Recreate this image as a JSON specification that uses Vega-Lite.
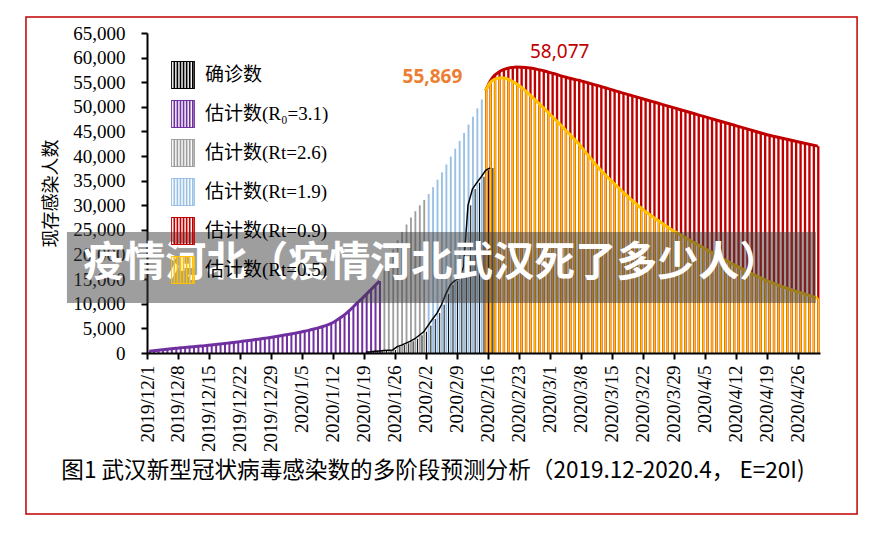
{
"$schema":"https://vega.github.io/schema/vega-lite/v6.json",
"width":673,"height":320,"autosize":"none",
"padding":{"left":147,"top":33,"right":62,"bottom":182},
"background":"white",
"config":{"view":{"stroke":null}},
"resolve":{"axis":{"x":"independent","y":"independent"}},
"datasets":{"main":[
{"date":"2019-12-01","p":350},{"date":"2019-12-02","p":450},{"date":"2019-12-03","p":550},{"date":"2019-12-04","p":650},{"date":"2019-12-05","p":750},{"date":"2019-12-06","p":850},{"date":"2019-12-07","p":950},{"date":"2019-12-08","p":1050},{"date":"2019-12-09","p":1120},{"date":"2019-12-10","p":1200},{"date":"2019-12-11","p":1280},{"date":"2019-12-12","p":1360},{"date":"2019-12-13","p":1440},{"date":"2019-12-14","p":1530},{"date":"2019-12-15","p":1620},{"date":"2019-12-16","p":1720},{"date":"2019-12-17","p":1820},{"date":"2019-12-18","p":1920},{"date":"2019-12-19","p":2030},{"date":"2019-12-20","p":2140},{"date":"2019-12-21","p":2250},{"date":"2019-12-22","p":2370},{"date":"2019-12-23","p":2480},{"date":"2019-12-24","p":2600},{"date":"2019-12-25","p":2720},{"date":"2019-12-26","p":2850},{"date":"2019-12-27","p":2980},{"date":"2019-12-28","p":3110},{"date":"2019-12-29","p":3250},{"date":"2019-12-30","p":3400},{"date":"2019-12-31","p":3550},
{"date":"2020-01-01","p":3710},{"date":"2020-01-02","p":3870},{"date":"2020-01-03","p":4040},{"date":"2020-01-04","p":4220},{"date":"2020-01-05","p":4400},{"date":"2020-01-06","p":4600},{"date":"2020-01-07","p":4820},{"date":"2020-01-08","p":5060},{"date":"2020-01-09","p":5320},{"date":"2020-01-10","p":5600},{"date":"2020-01-11","p":5950},{"date":"2020-01-12","p":6450},{"date":"2020-01-13","p":7050},{"date":"2020-01-14","p":7700},{"date":"2020-01-15","p":8450},{"date":"2020-01-16","p":9300},{"date":"2020-01-17","p":10200},{"date":"2020-01-18","p":11000},{"date":"2020-01-19","p":11900,"c":200},{"date":"2020-01-20","p":12800,"c":260},{"date":"2020-01-21","p":13700,"c":360},{"date":"2020-01-22","p":14600,"c":420},
{"date":"2020-01-23","g":16900,"c":500},{"date":"2020-01-24","g":19000,"c":570},{"date":"2020-01-25","g":21000,"c":620},{"date":"2020-01-26","g":22900,"c":1300},{"date":"2020-01-27","g":24600,"c":1600},{"date":"2020-01-28","g":26100,"c":2000},{"date":"2020-01-29","g":27500,"c":2400},{"date":"2020-01-30","g":28800,"c":2900},{"date":"2020-01-31","g":30000,"c":3600},{"date":"2020-02-01","g":31100,"c":4300},
{"date":"2020-02-02","b":32300,"c":5600},{"date":"2020-02-03","b":33700,"c":6900},{"date":"2020-02-04","b":35200,"c":8100},{"date":"2020-02-05","b":36700,"c":9800},{"date":"2020-02-06","b":38300,"c":12000},{"date":"2020-02-07","b":39900,"c":13800},{"date":"2020-02-08","b":41500,"c":14700},{"date":"2020-02-09","b":43100,"c":15200},{"date":"2020-02-10","b":44700,"c":17500},{"date":"2020-02-11","b":46400,"c":30000},{"date":"2020-02-12","b":48000,"c":33300},{"date":"2020-02-13","b":49700,"c":34600},{"date":"2020-02-14","b":51500,"c":35800},
{"date":"2020-02-15","r":53300,"o":53300,"c":37100},{"date":"2020-02-16","r":55200,"o":54900,"c":37600},{"date":"2020-02-17","r":56400,"o":55600},{"date":"2020-02-18","r":57100,"o":55850},{"date":"2020-02-19","r":57550,"o":55869},{"date":"2020-02-20","r":57850,"o":55650},{"date":"2020-02-21","r":58000,"o":55200},{"date":"2020-02-22","r":58077,"o":54650},{"date":"2020-02-23","r":58060,"o":54000},{"date":"2020-02-24","r":58000,"o":53250},{"date":"2020-02-25","r":57900,"o":52450},{"date":"2020-02-26","r":57750,"o":51600},{"date":"2020-02-27","r":57550,"o":50700},{"date":"2020-02-28","r":57350,"o":49850},{"date":"2020-02-29","r":57100,"o":48950},
{"date":"2020-03-01","r":56850,"o":48050},{"date":"2020-03-02","r":56600,"o":47150},{"date":"2020-03-03","r":56300,"o":46250},{"date":"2020-03-04","r":56050,"o":45300},{"date":"2020-03-05","r":55800,"o":44400},{"date":"2020-03-06","r":55600,"o":43450},{"date":"2020-03-07","r":55400,"o":42500},{"date":"2020-03-08","r":55150,"o":41400},{"date":"2020-03-09","r":54900,"o":40300},{"date":"2020-03-10","r":54650,"o":39200},{"date":"2020-03-11","r":54400,"o":38100},{"date":"2020-03-12","r":54130,"o":37150},{"date":"2020-03-13","r":53870,"o":36200},{"date":"2020-03-14","r":53600,"o":35300},{"date":"2020-03-15","r":53330,"o":34400},{"date":"2020-03-16","r":53070,"o":33550},{"date":"2020-03-17","r":52800,"o":32700},{"date":"2020-03-18","r":52540,"o":31850},{"date":"2020-03-19","r":52280,"o":31050},{"date":"2020-03-20","r":52020,"o":30250},{"date":"2020-03-21","r":51760,"o":29500},{"date":"2020-03-22","r":51500,"o":28800},{"date":"2020-03-23","r":51240,"o":28150},{"date":"2020-03-24","r":50980,"o":27500},{"date":"2020-03-25","r":50720,"o":26850},{"date":"2020-03-26","r":50460,"o":26250},{"date":"2020-03-27","r":50200,"o":25650},{"date":"2020-03-28","r":49940,"o":25050},{"date":"2020-03-29","r":49680,"o":24500},{"date":"2020-03-30","r":49420,"o":23950},{"date":"2020-03-31","r":49160,"o":23450},
{"date":"2020-04-01","r":48900,"o":22950},{"date":"2020-04-02","r":48640,"o":22450},{"date":"2020-04-03","r":48380,"o":21950},{"date":"2020-04-04","r":48120,"o":21450},{"date":"2020-04-05","r":47860,"o":20950},{"date":"2020-04-06","r":47600,"o":20450},{"date":"2020-04-07","r":47340,"o":19950},{"date":"2020-04-08","r":47080,"o":19450},{"date":"2020-04-09","r":46820,"o":18950},{"date":"2020-04-10","r":46560,"o":18450},{"date":"2020-04-11","r":46300,"o":17950},{"date":"2020-04-12","r":46040,"o":17500},{"date":"2020-04-13","r":45780,"o":17050},{"date":"2020-04-14","r":45520,"o":16600},{"date":"2020-04-15","r":45260,"o":16150},{"date":"2020-04-16","r":45000,"o":15700},{"date":"2020-04-17","r":44740,"o":15300},{"date":"2020-04-18","r":44480,"o":14900},{"date":"2020-04-19","r":44220,"o":14500},{"date":"2020-04-20","r":44020,"o":14150},{"date":"2020-04-21","r":43820,"o":13800},{"date":"2020-04-22","r":43620,"o":13450},{"date":"2020-04-23","r":43420,"o":13150},{"date":"2020-04-24","r":43220,"o":12850},{"date":"2020-04-25","r":43020,"o":12550},{"date":"2020-04-26","r":42820,"o":12250},{"date":"2020-04-27","r":42620,"o":12000},{"date":"2020-04-28","r":42420,"o":11700},{"date":"2020-04-29","r":42220,"o":11400},{"date":"2020-04-30","r":42020,"o":11100}
]},
"layer":[
{"data":{"name":"main"},"transform":[{"filter":"isValid(datum.p)"}],
 "mark":{"type":"bar","width":{"band":0.68}},
 "encoding":{
  "x":{"field":"date","type":"temporal","timeUnit":"utcyearmonthdate",
   "scale":{"type":"utc","domain":[{"year":2019,"month":12,"date":1,"utc":true},{"year":2020,"month":5,"date":1,"utc":true}]},
   "axis":{"title":null,"grid":false,"labelExpr":"utcFormat(datum.value, '%Y/%-m/%-d')","labelAngle":270,"labelAlign":"right","labelBaseline":"middle","labelFont":"Liberation Serif","labelFontSize":19,"labelColor":"#000","labelPadding":6,"labelOverlap":false,"labelBound":false,"labelFlush":false,"domainColor":"#000","domainWidth":2,"tickColor":"#000","tickWidth":2,"tickSize":6,"zindex":1,
    "values":[{"year":2019,"month":12,"date":1,"utc":true},{"year":2019,"month":12,"date":8,"utc":true},{"year":2019,"month":12,"date":15,"utc":true},{"year":2019,"month":12,"date":22,"utc":true},{"year":2019,"month":12,"date":29,"utc":true},{"year":2020,"month":1,"date":5,"utc":true},{"year":2020,"month":1,"date":12,"utc":true},{"year":2020,"month":1,"date":19,"utc":true},{"year":2020,"month":1,"date":26,"utc":true},{"year":2020,"month":2,"date":2,"utc":true},{"year":2020,"month":2,"date":9,"utc":true},{"year":2020,"month":2,"date":16,"utc":true},{"year":2020,"month":2,"date":23,"utc":true},{"year":2020,"month":3,"date":1,"utc":true},{"year":2020,"month":3,"date":8,"utc":true},{"year":2020,"month":3,"date":15,"utc":true},{"year":2020,"month":3,"date":22,"utc":true},{"year":2020,"month":3,"date":29,"utc":true},{"year":2020,"month":4,"date":5,"utc":true},{"year":2020,"month":4,"date":12,"utc":true},{"year":2020,"month":4,"date":19,"utc":true},{"year":2020,"month":4,"date":26,"utc":true}]}},
  "y":{"field":"p","type":"quantitative","scale":{"domain":[0,65000],"nice":false},
   "axis":{"title":"现存感染人数","titleFont":"Noto Sans CJK SC","titleFontSize":18,"titleFontWeight":"normal","titleColor":"#000","titlePadding":12,"grid":false,"values":[0,5000,10000,15000,20000,25000,30000,35000,40000,45000,50000,55000,60000,65000],"labelExpr":"format(datum.value, ',')","labelOverlap":false,"labelFont":"Liberation Serif","labelFontSize":19,"labelColor":"#000","labelPadding":16,"domainColor":"#000","domainWidth":2,"tickColor":"#000","tickWidth":2,"tickSize":6}},
  "color":{"datum":"估计数(R₀=3.1)","scale":{"domain":["确诊数","估计数(R₀=3.1)","估计数(Rt=2.6)","估计数(Rt=1.9)","估计数(Rt=0.9)","估计数(Rt=0.5)"],"range":["#000000","#7030A0","#9E9E9E","#9BC2E6","#C00000","#FFC000"]},
   "legend":{"title":null,"orient":"none","legendX":22,"legendY":28,"padding":0,"symbolType":"M-0.85,-1H0.85V1H-0.85Z M-0.78,-0.93V0.93H0.78V-0.93Z M-0.68,-0.93h0.12v1.86h-0.12Z M-0.46,-0.93h0.12v1.86h-0.12Z M-0.24,-0.93h0.12v1.86h-0.12Z M-0.02,-0.93h0.12v1.86h-0.12Z M0.2,-0.93h0.12v1.86h-0.12Z M0.42,-0.93h0.12v1.86h-0.12Z M0.64,-0.93h0.12v1.86h-0.12Z","symbolSize":784,"symbolStrokeWidth":0,"symbolOpacity":1,"labelFont":"Liberation Serif, Noto Sans CJK SC","labelFontSize":19,"labelColor":"#000","labelOffset":8,"rowPadding":11,"labelLimit":300}}}},
{"data":{"name":"main"},"transform":[{"filter":"isValid(datum.g)"}],"mark":{"type":"bar","width":{"band":0.64}},
 "encoding":{"x":{"field":"date","type":"temporal","timeUnit":"utcyearmonthdate","axis":null},"y":{"field":"g","type":"quantitative","axis":null},"color":{"datum":"估计数(Rt=2.6)"}}},
{"data":{"name":"main"},"transform":[{"filter":"isValid(datum.b)"}],"mark":{"type":"bar","width":{"band":0.66}},
 "encoding":{"x":{"field":"date","type":"temporal","timeUnit":"utcyearmonthdate","axis":null},"y":{"field":"b","type":"quantitative","axis":null},"color":{"datum":"估计数(Rt=1.9)"}}},
{"data":{"name":"main"},"transform":[{"filter":"isValid(datum.r)"}],"mark":{"type":"bar","width":{"band":0.76}},
 "encoding":{"x":{"field":"date","type":"temporal","timeUnit":"utcyearmonthdate","axis":null},"y":{"field":"r","type":"quantitative","axis":null},"color":{"datum":"估计数(Rt=0.9)"}}},
{"data":{"name":"main"},"transform":[{"filter":"isValid(datum.o)"}],"mark":{"type":"bar","width":{"band":0.62}},
 "encoding":{"x":{"field":"date","type":"temporal","timeUnit":"utcyearmonthdate","axis":null},"y":{"field":"o","type":"quantitative","axis":null},"color":{"datum":"估计数(Rt=0.5)"}}},
{"data":{"name":"main"},"transform":[{"filter":"isValid(datum.c)"}],"mark":{"type":"bar","width":{"band":0.45},"xOffset":2.2},
 "encoding":{"x":{"field":"date","type":"temporal","timeUnit":"utcyearmonthdate","axis":null},"y":{"field":"c","type":"quantitative","axis":null},"color":{"datum":"确诊数"}}},
{"data":{"name":"main"},"transform":[{"filter":"isValid(datum.p)"}],"mark":{"type":"line","color":"#7030A0","strokeWidth":3,"interpolate":"monotone"},
 "encoding":{"x":{"field":"date","type":"temporal","timeUnit":"utcyearmonthdate","bandPosition":0.5,"axis":null},"y":{"field":"p","type":"quantitative","axis":null}}},
{"data":{"name":"main"},"transform":[{"filter":"isValid(datum.r)"}],"mark":{"type":"line","color":"#C00000","strokeWidth":3,"interpolate":"monotone"},
 "encoding":{"x":{"field":"date","type":"temporal","timeUnit":"utcyearmonthdate","bandPosition":0.5,"axis":null},"y":{"field":"r","type":"quantitative","axis":null}}},
{"data":{"name":"main"},"transform":[{"filter":"isValid(datum.o)"}],"mark":{"type":"line","color":"#FFC000","strokeWidth":3,"interpolate":"monotone"},
 "encoding":{"x":{"field":"date","type":"temporal","timeUnit":"utcyearmonthdate","bandPosition":0.5,"axis":null},"y":{"field":"o","type":"quantitative","axis":null}}},
{"data":{"name":"main"},"transform":[{"filter":"isValid(datum.c)"}],"mark":{"type":"line","color":"#000000","strokeWidth":1.5},
 "encoding":{"x":{"field":"date","type":"temporal","timeUnit":"utcyearmonthdate","bandPosition":0.5,"axis":null},"y":{"field":"c","type":"quantitative","axis":null}}},
{"data":{"name":"main"},"transform":[{"filter":"datum.r == 58077"}],"mark":{"type":"text","color":"#C00000","font":"Noto Sans","fontSize":19,"dx":43,"dy":-15,"align":"center","baseline":"middle"},
 "encoding":{"x":{"field":"date","type":"temporal","timeUnit":"utcyearmonthdate","bandPosition":0.5,"axis":null},"y":{"field":"r","type":"quantitative","axis":null},"text":{"field":"r","format":","}}},
{"data":{"name":"main"},"transform":[{"filter":"datum.o == 55869"}],"mark":{"type":"text","color":"#ED7D31","font":"Noto Sans","fontSize":19,"fontWeight":"bold","dx":-71,"dy":-1,"align":"center","baseline":"middle"},
 "encoding":{"x":{"field":"date","type":"temporal","timeUnit":"utcyearmonthdate","bandPosition":0.5,"axis":null},"y":{"field":"o","type":"quantitative","axis":null},"text":{"field":"o","format":","}}},
{"data":{"values":[{}]},"mark":{"type":"rect","color":"#3e3e3e","opacity":0.5},
 "encoding":{"x":{"datum":{"year":2019,"month":11,"date":12,"hours":22,"utc":true},"type":"temporal","axis":null},"x2":{"datum":{"year":2020,"month":4,"date":30,"hours":2,"utc":true}},"y":{"datum":24580,"type":"quantitative","axis":null},"y2":{"datum":10160}}},
{"data":{"values":[{}]},"mark":{"type":"text","color":"#ffffff","font":"Noto Sans CJK SC","fontSize":41,"fontWeight":"bold","align":"center","baseline":"middle"},
 "encoding":{"x":{"datum":{"year":2020,"month":2,"date":3,"hours":8,"utc":true},"type":"temporal","axis":null},"y":{"datum":18080,"type":"quantitative","axis":null},"text":{"value":"疫情河北（疫情河北武汉死了多少人）"}}},
{"data":{"values":[{}]},"mark":{"type":"text","color":"#000000","font":"Noto Sans CJK SC","fontSize":22.6,"align":"center","baseline":"middle"},
 "encoding":{"x":{"datum":{"year":2020,"month":2,"date":3,"hours":14,"utc":true},"type":"temporal","axis":null},"y":{"datum":-23970,"type":"quantitative","axis":null},"text":{"value":"图1  武汉新型冠状病毒感染数的多阶段预测分析（2019.12-2020.4，  E=20I)"}}},
{"data":{"values":[{}]},"mark":{"type":"rect","filled":false,"color":"#C00000","strokeWidth":1.5},
 "encoding":{"x":{"datum":{"year":2019,"month":11,"date":3,"hours":16,"utc":true},"type":"temporal","axis":null},"x2":{"datum":{"year":2020,"month":5,"date":9,"hours":9,"utc":true}},"y":{"datum":68250,"type":"quantitative","axis":null},"y2":{"datum":-32700}}}
]}
